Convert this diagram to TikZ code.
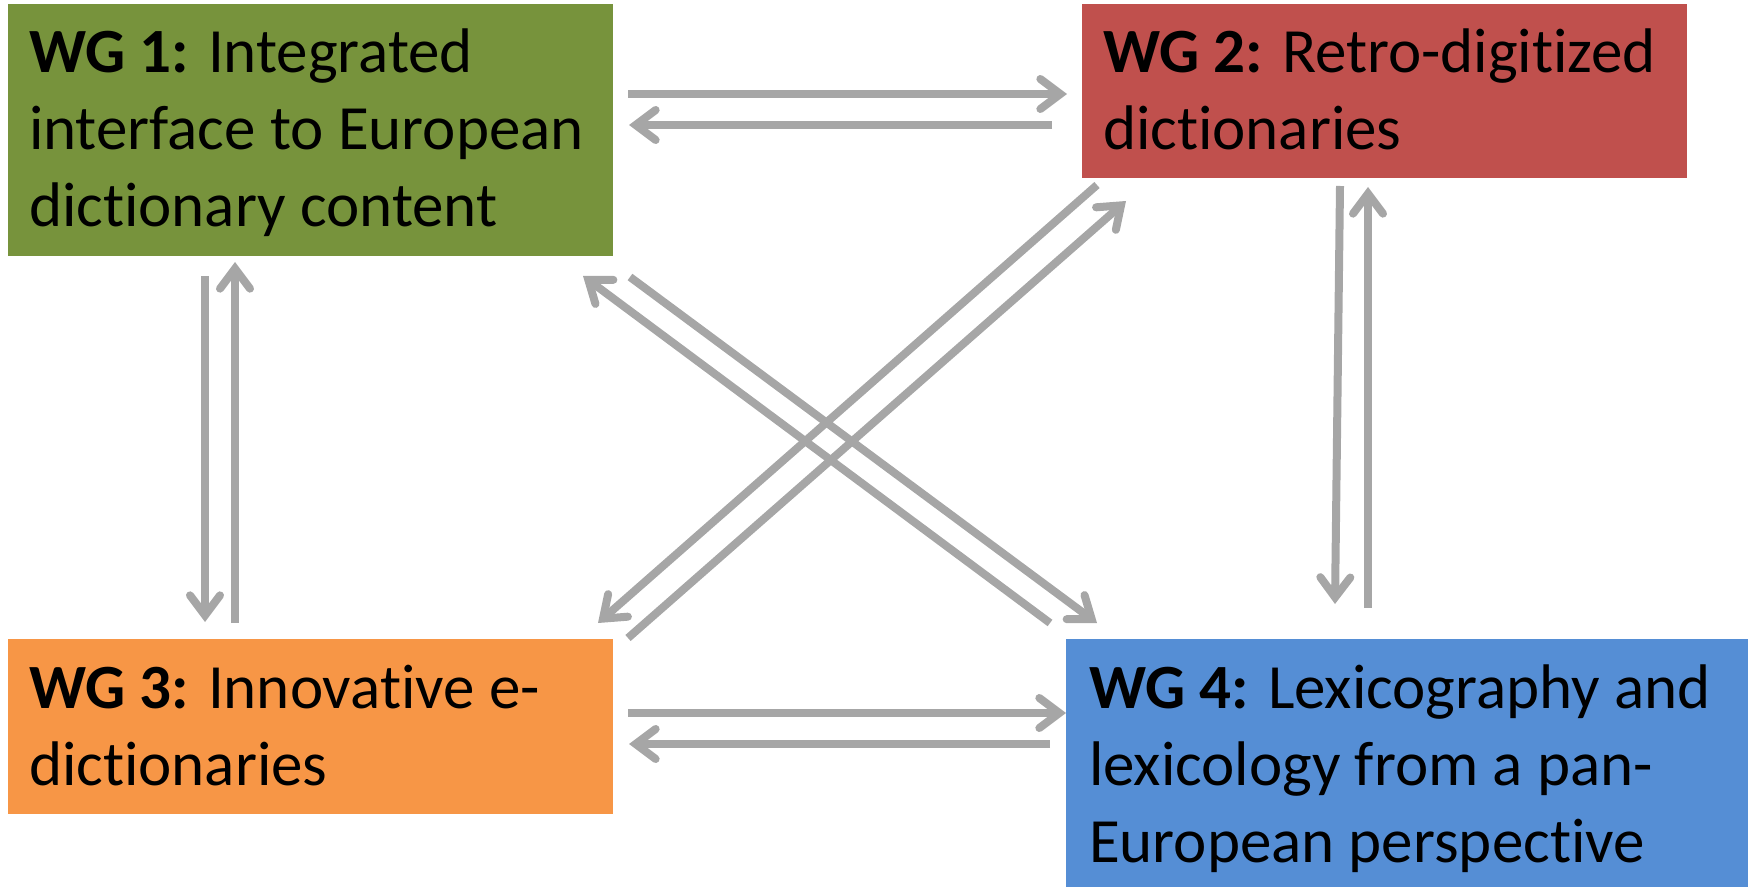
\documentclass[tikz,border=0pt]{standalone}
\usepackage{fontspec}
\setmainfont{Carlito}[Ligatures=NoCommon]
\usetikzlibrary{arrows.meta,calc}
\definecolor{wgone}{RGB}{119,147,60}
\definecolor{wgtwo}{RGB}{192,80,77}
\definecolor{wgthree}{RGB}{247,150,70}
\definecolor{wgfour}{RGB}{85,142,213}
\definecolor{arrgray}{RGB}{166,166,166}
\begin{document}
\begin{tikzpicture}[x=0.5pt,y=-0.5pt,
  box/.style={rectangle,draw=none,inner sep=0pt,outer sep=0pt},
  lbl/.style={anchor=base west,align=left,inner sep=0pt,outer sep=0pt,
    font=\fontsize{31.5}{38.5}\selectfont},
  arr/.style={draw=arrgray,line width=4pt,
    -{Straight Barb[length=10pt,width=15pt,line cap=round,line join=miter]}}]
\useasboundingbox (0,0) rectangle (1750,887);
% boxes
\node[box,fill=wgone,minimum width=302.5pt,minimum height=126pt] (w1) at (310.5,130) {};
\node[box,fill=wgtwo,minimum width=302.5pt,minimum height=87pt] (w2) at (1384.5,91) {};
\node[box,fill=wgthree,minimum width=302.5pt,minimum height=87.5pt] (w3) at (310.5,726.5) {};
\node[box,fill=wgfour,minimum width=341pt,minimum height=124pt] (w4) at (1407,763) {};
% labels (base anchor = baseline of last line)
\node[lbl] (t1) at ($(w1.north west)+(21,223)$) {\textbf{WG 1:} Integrated\\interface to European\\dictionary content};
\node[lbl] (t2) at ($(w2.north west)+(21,146)$) {\textbf{WG 2:} Retro-digitized\\dictionaries};
\node[lbl] (t3) at ($(w3.north west)+(21,146)$) {\textbf{WG 3:} Innovative e-\\dictionaries};
\node[lbl] (t4) at ($(w4.north west)+(23,223)$) {\textbf{WG 4:} Lexicography and\\lexicology from a pan-\\European perspective};
% horizontal connectors
\draw[arr] ($(w1.north east)+(15,90)$) -- ($(w2.north west)+(-15,90)$);
\draw[arr] ($(w2.north west)+(-30,121)$) -- ($(w1.north east)+(16,121)$);
\draw[arr] ($(w3.north east)+(15,74)$) -- ($(w4.north west)+(0,74)$);
\draw[arr] ($(w4.north west)+(-16,105)$) -- ($(w3.north east)+(16,105)$);
% vertical connectors
\draw[arr] ($(w1.south west)+(197,20)$) -- ($(w3.north west)+(197,-17)$);
\draw[arr] ($(w3.north west)+(227,-16)$) -- ($(w1.south west)+(227,6)$);
\draw[arr] ($(w2.south west)+(258,8)$) -- ($(w4.north west)+(269,-35)$);
\draw[arr] ($(w4.north west)+(302,-31)$) -- ($(w2.south west)+(286,9)$);
% diagonal connectors
\draw[arr] ($(w4.north west)+(-16,-16)$) -- ($(w1.south east)+(-30,20)$);
\draw[arr] ($(w1.south east)+(17,21)$) -- ($(w4.north west)+(31,-16)$);
\draw[arr] ($(w2.south west)+(15,7)$) -- ($(w3.north east)+(-15,-16)$);
\draw[arr] ($(w3.north east)+(15,-1)$) -- ($(w2.south west)+(44,23)$);
\end{tikzpicture}
\end{document}
